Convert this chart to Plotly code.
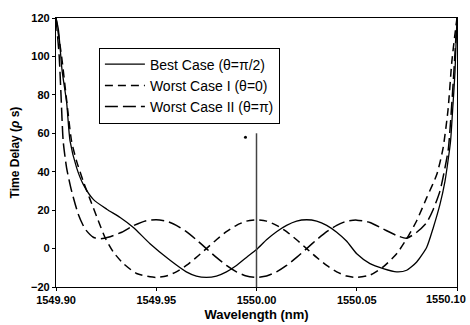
import plotly.graph_objects as go

# ---- data ----
best_x = [1549.900, 1549.9012, 1549.903, 1549.9053, 1549.907, 1549.9103, 1549.9136, 1549.9186,
          1549.9253, 1549.932, 1549.9386, 1549.9469, 1549.9569, 1549.965, 1549.970, 1549.975,
          1549.980, 1549.985, 1549.990, 1549.995, 1550.000, 1550.005, 1550.010, 1550.015,
          1550.020, 1550.025, 1550.030, 1550.035, 1550.040, 1550.045, 1550.050, 1550.0566,
          1550.0632, 1550.0699, 1550.0749, 1550.0799, 1550.0849, 1550.0882, 1550.0915,
          1550.094, 1550.0957, 1550.0968, 1550.098, 1550.099, 1550.100]
best_y = [120, 114, 93, 76, 56, 42, 33.4, 25.6,
          20.5, 16.2, 11, 2.5, -6.1, -12.1, -14.3, -15,
          -14.3, -12.1, -8.8, -4.6, -0.5, 4.6, 8.8, 12.1,
          14.3, 15, 14.3, 12.1, 8.5, 3.8, -2.7, -7.8,
          -10.4, -12.1, -11.3, -7, 0.7, 11, 23,
          35, 47, 56, 75, 92, 120]

wc1_x = [1549.900, 1549.9028, 1549.905, 1549.9078, 1549.9103, 1549.9136, 1549.917, 1549.9211,
         1549.9244, 1549.9286, 1549.9336, 1549.9402, 1549.9469, 1549.950, 1549.955, 1549.960,
         1549.965, 1549.970, 1549.975, 1549.980, 1549.985, 1549.990, 1549.995, 1550.000,
         1550.005, 1550.010, 1550.015, 1550.020, 1550.025, 1550.030, 1550.035, 1550.040,
         1550.045, 1550.050, 1550.0566, 1550.0632, 1550.0699, 1550.0749, 1550.0799,
         1550.0849, 1550.0899, 1550.093, 1550.0955, 1550.0974, 1550.0988, 1550.100]
wc1_y = [120, 100, 80, 55.7, 45.4, 35, 25.6, 14.5,
         5.9, -1.8, -7.8, -13, -14.7, -15, -14.3, -12.1,
         -8.8, -4.6, 0, 4.6, 8.8, 12.1, 14.3, 15,
         14.3, 12.1, 8.8, 4.6, 0, -4.6, -8.8, -12.1,
         -14.3, -15, -13.8, -9.5, -2.7, 5.1, 14.5,
         26.5, 38.5, 52, 72, 97, 110, 120]

wc2_x = [1549.900, 1549.9016, 1549.9025, 1549.9036, 1549.9053, 1549.9078, 1549.9111, 1549.9145,
         1549.9186, 1549.922, 1549.926, 1549.9328, 1549.9386, 1549.945, 1549.950, 1549.955,
         1549.960, 1549.965, 1549.970, 1549.975, 1549.980, 1549.985, 1549.990, 1549.995,
         1550.000, 1550.005, 1550.010, 1550.015, 1550.020, 1550.025, 1550.030, 1550.035,
         1550.040, 1550.045, 1550.050, 1550.0566, 1550.0632, 1550.0699, 1550.0749, 1550.0799,
         1550.0849, 1550.0882, 1550.0915, 1550.094, 1550.0957, 1550.0982, 1550.100]
wc2_y = [120, 100, 80, 55.7, 41.9, 29.9, 17.9, 10.2,
         5.9, 5.1, 5.9, 8.5, 11.9, 14.5, 15, 14.3,
         12.1, 8.8, 4.6, 0, -4.6, -8.8, -12.1, -14.3,
         -15, -14.3, -12.1, -8.8, -4.6, 0, 4.6, 8.8,
         12.1, 14.3, 14.8, 13.6, 10.2, 6.8, 5.4, 8.5,
         13.6, 20.5, 29.9, 42, 52, 88, 120]

marker_x = [1550.0, 1550.0]
marker_y = [-20, 60]
dot_x = [1549.9945]
dot_y = [58]

x_ticks = [1549.90, 1549.95, 1550.00, 1550.05, 1550.10]
x_ticklabels = ["1549.90", "1549.95", "1550.00", "1550.05", "1550.10"]
y_ticks = [-20, 0, 20, 40, 60, 80, 100, 120]

FONT = "Arial, 'Liberation Sans', sans-serif"
TICKFONT = dict(family=FONT, size=11, weight="bold", color="black")

fig = go.Figure()
fig.add_trace(go.Scatter(x=best_x, y=best_y, mode="lines", name="Best Case (θ=π/2)",
                         line=dict(color="black", width=1.3, shape="spline", smoothing=0.6)))
fig.add_trace(go.Scatter(x=wc1_x, y=wc1_y, mode="lines", name="Worst Case I (θ=0)",
                         line=dict(color="black", width=1.5, dash="8px,5px", shape="spline", smoothing=0.6)))
fig.add_trace(go.Scatter(x=wc2_x, y=wc2_y, mode="lines", name="Worst Case II (θ=π)",
                         line=dict(color="black", width=1.5, dash="13px,5px", shape="spline", smoothing=0.6)))
fig.add_trace(go.Scatter(x=marker_x, y=marker_y, mode="lines", showlegend=False,
                         line=dict(color="#444", width=1.5)))
fig.add_trace(go.Scatter(x=dot_x, y=dot_y, mode="markers", showlegend=False,
                         marker=dict(color="black", size=3)))

# last tick label drawn as an annotation nudged left so it stays inside the page
shown_ticktext = x_ticklabels[:-1] + [""]
fig.add_annotation(x=x_ticks[-1], y=0, xref="x", yref="paper", text=x_ticklabels[-1],
                   showarrow=False, xanchor="center", yanchor="top", xshift=-11, yshift=-4,
                   font=TICKFONT)

fig.update_layout(
    width=470, height=325,
    margin=dict(l=56, r=13, t=15, b=38),
    paper_bgcolor="white", plot_bgcolor="white",
    font=dict(family=FONT, color="black"),
    showlegend=True,
    legend=dict(x=0.107, y=0.89, xanchor="left", yanchor="top",
                bordercolor="black", borderwidth=1, bgcolor="white",
                font=dict(family=FONT, size=14, color="black"),
                tracegroupgap=0, itemwidth=40),
    xaxis=dict(range=[1549.90, 1550.10], tickvals=x_ticks, ticktext=shown_ticktext,
               showgrid=False, zeroline=False, showline=True, linecolor="black", linewidth=1.2,
               mirror=True, ticks="outside", ticklen=3, tickcolor="black",
               automargin=False,
               tickfont=TICKFONT,
               title=dict(text="Wavelength (nm)", font=dict(family=FONT, size=13, weight="bold"),
                          standoff=4)),
    yaxis=dict(range=[-20, 120], tickvals=y_ticks,
               showgrid=False, zeroline=False, showline=True, linecolor="black", linewidth=1.2,
               mirror=True, ticks="outside", ticklen=3, tickcolor="black",
               tickfont=TICKFONT,
               title=dict(text="Time Delay (<i>ρ</i> s)", font=dict(family=FONT, size=12, weight="bold"),
                          standoff=8)),
)

fig.write_html("out.html")
